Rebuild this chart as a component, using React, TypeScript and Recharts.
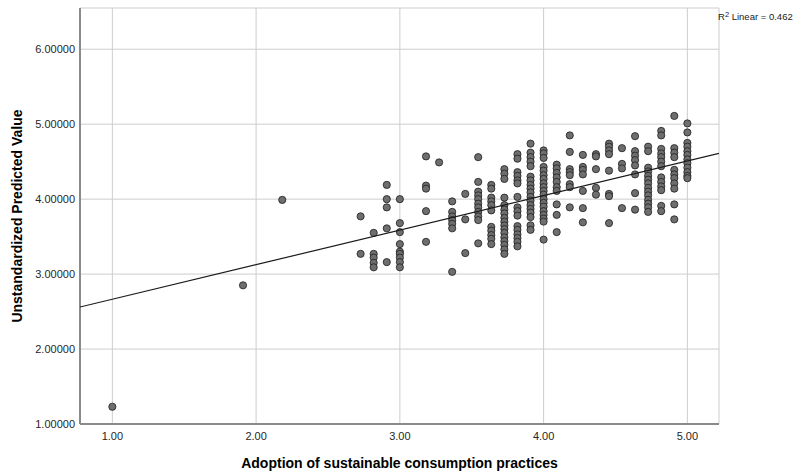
import React from 'react';
import { ScatterChart, Scatter, XAxis, YAxis, CartesianGrid } from 'recharts';

// adoption score levels (x) and the predicted values observed at each level (y)
const adoptionLevels = [
  1.0, 1.909, 2.182, 2.727, 2.818, 2.909, 3.0, 3.182, 3.273, 3.364, 3.455, 3.545, 3.636, 3.727,
  3.818, 3.909, 4.0, 4.091, 4.182, 4.273, 4.364, 4.455, 4.545, 4.636, 4.727, 4.818, 4.909, 5.0,
];

const predictedByLevel: number[][] = [
  [1.23],
  [2.85],
  [3.99],
  [3.77, 3.27],
  [3.55, 3.27, 3.22, 3.15, 3.09],
  [4.19, 4.0, 3.89, 3.61, 3.16],
  [4.0, 3.68, 3.56, 3.4, 3.3, 3.27, 3.22, 3.16, 3.09],
  [4.57, 4.18, 4.14, 3.84, 3.43],
  [4.49],
  [3.97, 3.83, 3.77, 3.72, 3.67, 3.61, 3.03],
  [4.07, 3.73, 3.28],
  [4.56, 4.23, 4.1, 4.05, 4.0, 3.94, 3.89, 3.83, 3.77, 3.72, 3.41],
  [4.19, 4.14, 4.02, 3.97, 3.92, 3.85, 3.63, 3.58, 3.52, 3.47, 3.4],
  [4.4, 4.34, 4.27, 4.02, 3.92, 3.86, 3.81, 3.75, 3.7, 3.65, 3.6, 3.55, 3.49, 3.44, 3.39, 3.33, 3.27],
  [4.6, 4.54, 4.36, 4.31, 4.25, 4.21, 4.03, 3.89, 3.84, 3.78, 3.64, 3.59, 3.53, 3.48, 3.43, 3.37],
  [4.74, 4.62, 4.56, 4.5, 4.44, 4.3, 4.25, 4.19, 4.14, 4.09, 4.03, 3.98, 3.92, 3.87, 3.82, 3.76, 3.65, 3.59],
  [4.65, 4.61, 4.55, 4.43, 4.38, 4.32, 4.27, 4.21, 4.16, 4.11, 4.06, 4.0, 3.95, 3.9, 3.84, 3.79, 3.74, 3.7, 3.46],
  [4.46, 4.41, 4.35, 4.29, 4.23, 4.16, 4.11, 3.93, 3.79, 3.56],
  [4.85, 4.63, 4.4, 4.36, 4.32, 4.2, 4.16, 3.89],
  [4.59, 4.43, 4.39, 4.33, 4.11, 3.88, 3.69],
  [4.6, 4.57, 4.4, 4.15, 4.06],
  [4.74, 4.7, 4.65, 4.6, 4.38, 4.07, 4.04, 3.68],
  [4.68, 4.47, 4.41, 3.88],
  [4.84, 4.64, 4.58, 4.52, 4.45, 4.33, 4.08, 3.86],
  [4.7, 4.64, 4.42, 4.37, 4.31, 4.26, 4.21, 4.15, 4.1, 4.05, 3.99, 3.94, 3.89, 3.83],
  [4.91, 4.85, 4.67, 4.61, 4.56, 4.5, 4.44, 4.29, 4.23, 4.17, 4.12, 3.91, 3.84],
  [5.11, 4.68, 4.62, 4.56, 4.39, 4.33, 4.28, 4.21, 4.14, 3.93, 3.73],
  [5.01, 4.89, 4.75, 4.7, 4.64, 4.59, 4.53, 4.48, 4.42, 4.36, 4.31, 4.28],
];

// fit line end points, read at the plot edges
const fitLine = [
  { x: 0.775, y: 2.561 },
  { x: 5.22, y: 4.61 },
];

const xTicks = [1, 2, 3, 4, 5];
const yTicks = [1, 2, 3, 4, 5, 6];

const points = adoptionLevels.flatMap((x, i) => predictedByLevel[i].map((y) => ({ x, y })));

const Dot = (props: any) => (
  <circle cx={props.cx} cy={props.cy} r={3.6} fill="#6e6e6e" stroke="#1e1e1e" strokeWidth={0.8} />
);

const tickStyle = { fontSize: 11, fill: '#262626', fontFamily: 'Liberation Sans, Arial, sans-serif' };
const titleStyle = { fontSize: 14, fontWeight: 700, fill: '#000', fontFamily: 'Liberation Sans, Arial, sans-serif' };

const App: React.FC = () => {
  return (
    <div style={{ position: 'absolute', left: 0, top: 0, width: 799, height: 472, background: '#fff' }}>
      <ScatterChart width={799} height={472} margin={{ top: 8, right: 80, bottom: 0, left: 0 }}>
        <CartesianGrid stroke="#cdcdcd" />
        <XAxis
          type="number"
          dataKey="x"
          domain={[0.775, 5.22]}
          allowDataOverflow
          ticks={xTicks}
          tickFormatter={(v: number) => v.toFixed(2)}
          tick={tickStyle}
          tickLine={false}
          tickSize={6}
          axisLine={{ stroke: '#8a8a8a', strokeWidth: 2 }}
          height={48}
          label={{ value: 'Adoption of sustainable consumption practices', position: 'insideBottom', offset: 4, style: titleStyle }}
        />
        <YAxis
          type="number"
          dataKey="y"
          domain={[1, 6.55]}
          allowDataOverflow
          ticks={yTicks}
          tickFormatter={(v: number) => v.toFixed(5)}
          tick={tickStyle}
          tickLine={false}
          tickSize={3}
          axisLine={{ stroke: '#8a8a8a', strokeWidth: 2 }}
          width={80}
          label={{ value: 'Unstandardized Predicted Value', angle: -90, position: 'insideLeft', offset: 17, style: { ...titleStyle, textAnchor: 'middle' } }}
        />
        <Scatter data={points} shape={<Dot />} isAnimationActive={false} />
        <Scatter
          data={fitLine}
          line={{ stroke: '#1a1a1a', strokeWidth: 1.2 }}
          shape={() => <g />}
          isAnimationActive={false}
        />
      </ScatterChart>
      <div
        style={{
          position: 'absolute',
          left: 718,
          top: 10,
          fontSize: 9.5,
          color: '#1a1a1a',
          fontFamily: 'Liberation Sans, Arial, sans-serif',
          whiteSpace: 'nowrap',
          lineHeight: '14px',
        }}
      >
        R<sup style={{ fontSize: 7.5, verticalAlign: 'top', lineHeight: '10px' }}>2</sup> Linear = 0.462
      </div>
    </div>
  );
};

export default App;
